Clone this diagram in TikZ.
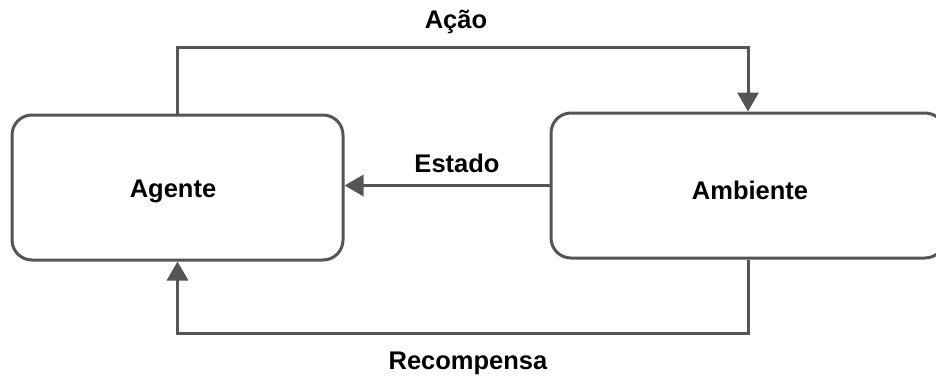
\documentclass[tikz,border=0pt]{standalone}
\usepackage{fontspec}
\setmainfont{Liberation Sans}
\usetikzlibrary{arrows.meta}
\definecolor{linegray}{HTML}{555555}
\begin{document}
\begin{tikzpicture}[x=1pt,y=-1pt,
  box/.style={draw=linegray, line width=3pt, rounded corners=20pt, fill=white},
  conn/.style={draw=linegray, line width=3pt, -{Triangle[length=19pt,width=21pt]}},
  lbl/.style={font=\fontsize{25.5}{30}\selectfont\bfseries, text=black, inner sep=0pt}]
\useasboundingbox (0,0) rectangle (936,378);
\clip (0,0) rectangle (936,378);
\node[box, minimum width=331pt, minimum height=145pt] (agente) at (177.5,187.5) {};
\node[lbl] (agtxt) at (173,191) {Agente};
\node[box, minimum width=394pt, minimum height=145pt] (ambiente) at (748,185.5) {};
\node[lbl] (ambtxt) at (750,190) {Ambiente};
\coordinate (topy) at (0,47);
\coordinate (boty) at (0,333);
\draw[conn] (agente.north) |- (topy -| ambiente.north) -- (ambiente.north);
\draw[conn] (ambiente.west) -- (ambiente.west -| agente.east);
\draw[conn] (ambiente.south) |- (boty -| agente.south) -- (agente.south);
\node[lbl] (acao) at (456,22) {Ação};
\node[lbl] (estado) at (457,163) {Estado};
\node[lbl] (recomp) at (468,363) {Recompensa};
\end{tikzpicture}
\end{document}
